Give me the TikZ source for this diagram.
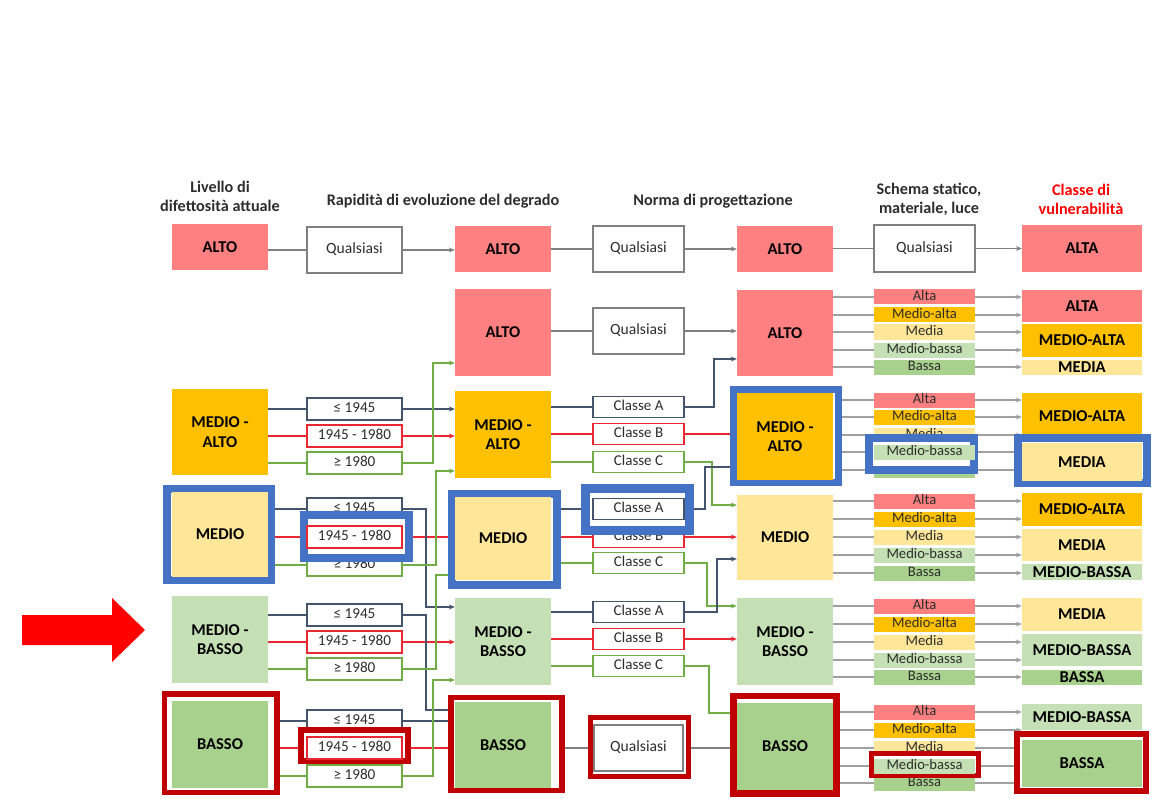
\documentclass[tikz,border=0pt]{standalone}
\usepackage{fontspec}
\setmainfont{Carlito}
\usetikzlibrary{arrows.meta,calc}
\pgfdeclarelayer{bg}
\pgfsetlayers{bg,main}
\definecolor{cRed}{RGB}{255,128,128}
\definecolor{cOrange}{RGB}{255,192,0}
\definecolor{cYellow}{RGB}{255,230,153}
\definecolor{cLGreen}{RGB}{197,224,180}
\definecolor{cGreen}{RGB}{169,209,142}
\definecolor{qGray}{RGB}{128,128,128}
\definecolor{lnG}{RGB}{160,160,160}
\definecolor{lnA}{RGB}{68,84,106}
\definecolor{lnB}{RGB}{232,40,50}
\definecolor{lnC}{RGB}{112,173,71}
\definecolor{hlBlue}{RGB}{68,114,196}
\definecolor{hlRed}{RGB}{192,0,0}
\definecolor{txt}{RGB}{45,45,45}
\tikzset{
  every node/.style={font=\fontsize{15}{19.5}\selectfont},
  big/.style={rectangle, inner sep=0pt, minimum width=96pt, font=\fontsize{16.5}{19.5}\selectfont\bfseries, align=center, text=black},
  one/.style={text height=10.5pt, text depth=3pt, text=txt},
  yr/.style={rectangle, draw, line width=1.2pt, fill=white, inner sep=0pt, minimum width=95pt, minimum height=22pt, one, font=\fontsize{15.2}{18}\selectfont},
  kl/.style={yr, minimum width=91pt, minimum height=21pt, font=\fontsize{15}{18}\selectfont},
  qq/.style={rectangle, draw=qGray, line width=1.1pt, fill=white, inner sep=0pt, minimum width=91pt, minimum height=46pt, one, font=\fontsize{15.6}{18}\selectfont},
  bar/.style={rectangle, inner sep=0pt, minimum width=101pt, minimum height=15pt, one, font=\fontsize{14.6}{15}\selectfont},
  cls/.style={rectangle, inner sep=0pt, minimum width=120pt, font=\fontsize{16.6}{19.5}\selectfont\bfseries, text=black},
  hdr/.style={align=center, font=\fontsize{16.2}{19}\selectfont\bfseries, text=txt},
  ln/.style={line width=1.1pt},
  arr/.style={-{Stealth[length=6pt,width=5pt]}},
  hlB/.style={draw=hlBlue, fill=white, line width=8pt},
  hlR/.style={draw=hlRed, fill=white, line width=5.5pt},
}
\begin{document}
\begin{tikzpicture}[x=1pt,y=-1pt]
\useasboundingbox (0,0) rectangle (1153,799);

% headers
\node[hdr] (h1) at (220,196) {Livello di\\difettosità attuale};
\node[hdr] (h2) at (443,201) {Rapidità di evoluzione del degrado};
\node[hdr] (h3) at (713,201) {Norma di progettazione};
\node[hdr] (h4) at (929,199) {Schema statico,\\materiale, luce};
\node[hdr, text={rgb,255:red,255;green,0;blue,0}] (h5) at (1081,199) {Classe di\\vulnerabilità};

% column 1
\node[big, fill=cRed, minimum height=46pt] (c1a) at (220,247) {ALTO};
\node[big, fill=cOrange, minimum height=86pt] (c1ma) at (220,432) {MEDIO -\\ALTO};
\node[big, fill=cLGreen, minimum height=87pt] (c1mb) at (220,639.5) {MEDIO -\\BASSO};

% column 2
\node[qq, minimum width=95pt] (q2) at (354.5,250) {Qualsiasi};
\node[yr, draw=lnA] (yMA1) at (354.5,409) {≤ 1945};
\node[yr, draw=lnB] (yMA2) at (354.5,436) {1945 - 1980};
\node[yr, draw=lnC] (yMA3) at (354.5,463) {≥ 1980};
\node[yr, draw=lnA] (yM1) at (354.5,509) {≤ 1945};
\node[yr, draw=lnC] (yM3) at (354.5,565) {≥ 1980};
\node[yr, draw=lnA] (yMB1) at (354.5,615) {≤ 1945};
\node[yr, draw=lnB] (yMB2) at (354.5,642) {1945 - 1980};
\node[yr, draw=lnC] (yMB3) at (354.5,669) {≥ 1980};
\node[yr, draw=lnA] (yB1) at (354.5,721) {≤ 1945};
\node[yr, draw=lnC] (yB3) at (354.5,776) {≥ 1980};

% column 3
\node[big, fill=cRed, minimum height=46pt] (c3a1) at (503,249) {ALTO};
\node[big, fill=cRed, minimum height=87pt] (c3a2) at (503,332.5) {ALTO};
\node[big, fill=cOrange, minimum height=87pt] (c3ma) at (503,434.5) {MEDIO -\\ALTO};
\node[big, fill=cLGreen, minimum height=87pt] (c3mb) at (503,641.5) {MEDIO -\\BASSO};

% column 4
\node[qq] (q4a) at (638.5,249) {Qualsiasi};
\node[qq] (q4b) at (638.5,331) {Qualsiasi};
\node[kl, draw=lnA] (kMA1) at (638.5,407) {Classe A};
\node[kl, draw=lnB] (kMA2) at (638.5,434) {Classe B};
\node[kl, draw=lnC] (kMA3) at (638.5,462) {Classe C};
\node[kl, draw=lnB] (kM2) at (638.5,537) {Classe B};
\node[kl, draw=lnC] (kM3) at (638.5,563) {Classe C};
\node[kl, draw=lnA] (kMB1) at (638.5,612) {Classe A};
\node[kl, draw=lnB] (kMB2) at (638.5,639) {Classe B};
\node[kl, draw=lnC] (kMB3) at (638.5,666) {Classe C};

% column 5
\node[big, fill=cRed, minimum height=46pt] (c5a1) at (785,249) {ALTO};
\node[big, fill=cRed, minimum height=86pt] (c5a2) at (785,333) {ALTO};
\node[big, fill=cYellow, minimum height=85pt] (c5m) at (785,537.5) {MEDIO};
\node[big, fill=cLGreen, minimum height=87pt] (c5mb) at (785,641.5) {MEDIO -\\BASSO};

% column 6
\node[qq, minimum width=101pt, minimum height=47pt] (q6) at (924.5,248.5) {Qualsiasi};
\foreach \s/\ya/\yb/\yc/\yd/\ye in {sA/297/315/332/350/367, sB/400/417/435/452/470, sC/501/519/537/555/573, sD/606/624/642/660/677, sE/712/730/748/766/783}{
  \node[bar, fill=cRed] (\s1) at (924.5,\ya) {Alta};
  \node[bar, fill=cOrange] (\s2) at (924.5,\yb) {Medio-alta};
  \node[bar, fill=cYellow] (\s3) at (924.5,\yc) {Media};
  \node[bar, fill=cLGreen] (\s4) at (924.5,\yd) {Medio-bassa};
  \node[bar, fill=cGreen] (\s5) at (924.5,\ye) {Bassa};
}

% column 7
\node[cls, fill=cRed, minimum height=47pt] (v1) at (1082,248.5) {ALTA};
\node[cls, fill=cRed, minimum height=32pt] (vA1) at (1082,306) {ALTA};
\node[cls, fill=cOrange, minimum height=33pt] (vA2) at (1082,340.5) {MEDIO-ALTA};
\node[cls, fill=cYellow, minimum height=15pt] (vA3) at (1082,367.5) {MEDIA};
\node[cls, fill=cOrange, minimum height=47pt] (vB1) at (1082,416.5) {MEDIO-ALTA};
\node[cls, fill=cOrange, minimum height=33pt] (vC1) at (1082,509.5) {MEDIO-ALTA};
\node[cls, fill=cYellow, minimum height=32pt] (vC2) at (1082,545) {MEDIA};
\node[cls, fill=cLGreen, minimum height=16pt] (vC3) at (1082,572) {MEDIO-BASSA};
\node[cls, fill=cYellow, minimum height=33pt] (vD1) at (1082,614.5) {MEDIA};
\node[cls, fill=cLGreen, minimum height=32pt] (vD2) at (1082,650) {MEDIO-BASSA};
\node[cls, fill=cGreen, minimum height=15pt] (vD3) at (1082,677.5) {BASSA};
\node[cls, fill=cLGreen, minimum height=26pt] (vE1) at (1082,717) {MEDIO-BASSA};

% highlight frames
\draw[hlB] (167,489) rectangle (271,580);
\draw[hlB] (304,514.5) rectangle (409,558);
\draw[hlB] (452,494) rectangle (557,585);
\draw[hlB, line width=9pt] (585,488) rectangle (689,530.5);
\draw[hlB, line width=7pt] (733.5,389.5) rectangle (838.5,482.5);
\draw[hlB] (869,438) rectangle (974,469.5);
\draw[hlB] (1018,438) rectangle (1147,483);
\draw[hlR] (164.5,694.2) rectangle (277,792.5);
\draw[hlR] (301,730) rectangle (408,761);
\draw[hlR] (451,697.5) rectangle (562,790.7);
\draw[hlR] (590.5,717.5) rectangle (688.5,776.5);
\draw[hlR, line width=6.5pt] (733.3,696) rectangle (836.7,793.3);
\draw[hlR, line width=4.7pt] (871.7,753.4) rectangle (978.3,775.8);
\draw[hlR, line width=6pt] (1017,734.2) rectangle (1146.3,790.8);

% highlighted nodes
\node[big, fill=cYellow, minimum height=85pt] (c1m) at (220,534.5) {MEDIO};
\node[big, fill=cGreen, minimum height=87pt] (c1b) at (220,744.5) {BASSO};
\node[yr, draw=lnB] (yM2) at (354.5,537) {1945 - 1980};
\node[yr, draw=lnB] (yB2) at (354.5,748) {1945 - 1980};
\node[big, fill=cYellow, minimum height=83pt] (c3m) at (503,538.5) {MEDIO};
\node[big, fill=cGreen, minimum height=86pt] (c3b) at (503,745) {BASSO};
\node[kl, draw=lnA] (kM1) at (638.5,509) {Classe A};
\node[qq, minimum width=89pt] (q4c) at (638.5,748) {Qualsiasi};
\node[big, fill=cOrange, minimum height=87pt] (c5ma) at (785,436.5) {MEDIO -\\ALTO};
\node[big, fill=cGreen, minimum height=87pt] (c5b) at (785,746.5) {BASSO};
\node[bar, fill=cLGreen] (sB4x) at (924.5,452) {Medio-bassa};
\node[bar, fill=cLGreen] (sE4x) at (924.5,766) {Medio-bassa};
\node[cls, fill=cYellow, minimum height=38pt] (vB2) at (1082,462) {MEDIA};
\node[cls, fill=cGreen, minimum height=47pt] (vE2) at (1082,763.5) {BASSA};

% red arrow
\fill[red] (22,615) -- (112,615) -- (112,598) -- (145,630) -- (112,662) -- (112,645) -- (22,645) -- cycle;

\begin{pgfonlayer}{bg}
% top row
\draw[ln,qGray] (c1a.east |- q2.west) -- (q2.west);
\draw[ln,qGray,arr] (q2.east) -- (q2.east -| c3a1.west);
\draw[ln,qGray] (c3a1.east |- q4a.west) -- (q4a.west);
\draw[ln,qGray,arr] (q4a.east) -- (q4a.east -| c5a1.west);
\draw[ln,qGray] (c5a1.east |- q6.west) -- (q6.west);
\draw[ln,qGray,arr] (q6.east) -- (q6.east -| v1.west);
% col1 -> col2
\foreach \s/\t/\c in {c1ma/yMA1/lnA, c1ma/yMA2/lnB, c1ma/yMA3/lnC, c1m/yM1/lnA, c1m/yM2/lnB, c1m/yM3/lnC, c1mb/yMB1/lnA, c1mb/yMB2/lnB, c1mb/yMB3/lnC, c1b/yB1/lnA, c1b/yB2/lnB, c1b/yB3/lnC}
  \draw[ln,\c] (\t.west -| \s.east) -- (\t.west);
% col2 -> col3
\foreach \s/\t/\c in {yMA1/c3ma/lnA, yMA2/c3ma/lnB, yM2/c3m/lnB, yMB2/c3mb/lnB, yB1/c3b/lnA, yB2/c3b/lnB}
  \draw[ln,\c,arr] (\s.east) -- (\s.east -| \t.west);
\draw[ln,lnC,arr] (yMA3.east) -| (433,363) -- (c3a2.west |- 0,363);
\draw[ln,lnA,arr] (yM1.east) -| (426,607) -- (c3mb.west |- 0,607);
\draw[ln,lnC,arr] (yM3.east) -| (436,471) -- (c3ma.west |- 0,471);
\draw[ln,lnA,arr] (yMB1.east) -| (426,710) -- (c3b.west |- 0,710);
\draw[ln,lnC,arr] (yMB3.east) -| (436,575) -- (c3m.west |- 0,575);
\draw[ln,lnC,arr] (yB3.east) -| (433,680) -- (c3mb.west |- 0,680);
% col3 -> col4
\draw[ln,qGray] (c3a2.east |- q4b.west) -- (q4b.west);
\draw[ln,qGray] (c3b.east |- q4c.west) -- (q4c.west);
\foreach \s/\t/\c in {c3ma/kMA1/lnA, c3ma/kMA2/lnB, c3ma/kMA3/lnC, c3m/kM1/lnA, c3m/kM2/lnB, c3m/kM3/lnC, c3mb/kMB1/lnA, c3mb/kMB2/lnB, c3mb/kMB3/lnC}
  \draw[ln,\c] (\t.west -| \s.east) -- (\t.west);
% col4 -> col5
\draw[ln,qGray,arr] (q4b.east) -- (q4b.east -| c5a2.west);
\draw[ln,lnA,arr] (kMA1.east) -| (714,359) -- (c5a2.west |- 0,359);
\draw[ln,lnB,arr] (kMA2.east) -- (kMA2.east -| c5ma.west);
\draw[ln,lnC,arr] (kMA3.east) -| (712,505) -- (c5m.west |- 0,505);
\draw[ln,lnA,arr] (kM1.east) -| (705,467) -- (c5ma.west |- 0,467);
\draw[ln,lnB,arr] (kM2.east) -- (kM2.east -| c5m.west);
\draw[ln,lnC,arr] (kM3.east) -| (707,606) -- (c5mb.west |- 0,606);
\draw[ln,lnA,arr] (kMB1.east) -| (717,559) -- (c5m.west |- 0,559);
\draw[ln,lnB,arr] (kMB2.east) -- (kMB2.east -| c5mb.west);
\draw[ln,lnC,arr] (kMB3.east) -| (709,713) -- (c5b.west |- 0,713);
\draw[ln,qGray,arr] (q4c.east) -- (q4c.east -| c5b.west);
% col5 -> col6 -> col7
\foreach \g/\s in {c5a2/sA, c5ma/sB, c5m/sC, c5mb/sD, c5b/sE}
  \foreach \i in {1,...,5}{
    \draw[ln,lnG] (\s\i.west -| \g.east) -- (\s\i.west);
    \draw[ln,lnG,arr] (\s\i.east) -- (\s\i.east -| v1.west);
  }
\end{pgfonlayer}
\end{tikzpicture}
\end{document}
